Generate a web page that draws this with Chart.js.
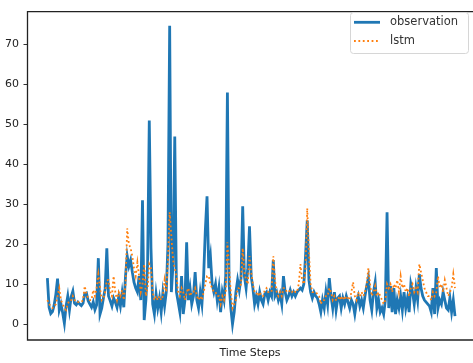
<!DOCTYPE html>
<html>
<head>
<meta charset="utf-8">
<script src="https://cdn.jsdelivr.net/npm/chart.js@4.4.1/dist/chart.umd.min.js"></script>
<style>
  html, body { margin: 0; padding: 0; background: #ffffff; }
  #wrap { width: 473px; height: 363px; }
</style>
</head>
<body>
<div id="wrap"><canvas id="c" width="473" height="363"></canvas></div>
<script>
// ---- data ----
const seriesNames = ['observation', 'lstm'];
const xTitle = 'Time Steps';
const yTicks = [0, 10, 20, 30, 40, 50, 60, 70];

const observation = [
  11.5, 4.2, 2.6, 3.1, 4.8, 7.5, 11.4, 3.5, 5.0, 2.8,
  0.2, 4.5, 7.0, 3.5, 6.8, 8.2, 5.2, 4.8, 5.5, 5.0,
  4.6, 5.2, 7.6, 7.8, 5.8, 5.0, 4.2, 5.5, 3.6, 4.8,
  16.5, 2.5, 4.0, 6.5, 8.8, 19.0, 7.0, 5.8, 4.5, 6.5,
  5.5, 4.2, 6.8, 4.5, 7.8, 4.2, 12.0, 17.0, 14.5, 16.0,
  13.0, 10.5, 9.0, 8.0, 12.0, 6.0, 31.0, 1.0, 6.0, 15.0,
  51.0, 19.0, 5.0, 2.5, 7.5, 4.0, 6.5, 3.0, 7.8, 4.5,
  8.0, 20.0, 74.7, 8.0, 15.0, 47.0, 8.0, 5.5, 3.0, 12.0,
  2.5, 6.0, 20.5, 6.0, 9.0, 5.0, 7.0, 13.0, 6.0, 4.0,
  8.0, 5.0, 12.0, 23.5, 32.0, 14.0, 17.0, 10.0, 8.0, 10.0,
  6.0, 9.0, 3.0, 8.0, 6.0, 12.0, 58.0, 10.0, 4.0, 0.0,
  3.0, 8.0, 11.0, 8.5, 11.5, 29.5, 12.0, 9.0, 14.0, 24.5,
  12.0, 9.0, 5.0, 7.0, 5.0, 8.0, 6.0, 5.0, 7.5, 8.0,
  6.0, 8.0, 7.0, 16.0, 7.0, 8.0, 6.0, 7.5, 5.0, 12.0,
  8.0, 6.0, 7.0, 8.5, 7.0, 8.0, 7.0, 8.0, 8.5, 9.0,
  8.5, 10.0, 17.0, 26.0, 11.0, 8.0, 6.5, 8.0, 7.0, 6.5,
  5.0, 3.0, 6.0, 4.0, 8.0, 5.0, 11.5, 7.0, 4.0, 8.0,
  3.5, 6.5, 7.0, 4.0, 6.5, 5.0, 7.0, 5.5, 4.0, 6.0,
  5.0, 2.5, 5.5, 7.0, 4.5, 6.0, 4.0, 7.0, 9.5, 11.5,
  6.0, 3.5, 8.0, 10.5, 4.0, 6.0, 3.0, 4.0, 2.5, 6.0,
  28.0, 4.0, 9.5, 3.0, 9.0, 2.5, 6.0, 4.0, 7.0, 3.5,
  8.0, 4.0, 6.5, 3.0, 10.0, 8.0, 5.0, 9.0, 6.0, 12.5,
  9.0, 7.0, 6.0, 5.5, 5.0, 4.5, 3.0, 9.0, 2.5, 14.0,
  4.0, 6.0, 5.0, 8.0, 6.0, 4.0, 3.5, 6.5, 3.0, 6.0, 2.0
];

const lstm = [
  6, 5, 4.5, 4, 4.5, 5, 7, 9, 6, 5,
  4, 3.5, 5, 6, 6, 7, 6, 5.5, 5.5, 5.5,
  5.5, 6, 9.5, 7.5, 6.5, 6, 6, 8.5, 7, 9,
  12.5, 9, 6, 6.5, 8, 11, 11, 8, 7, 12,
  8, 6, 8, 7, 8.5, 6, 10, 24, 20, 19,
  17, 14, 12, 15.5, 12, 8, 10, 15, 7, 9,
  15, 14, 8, 6, 7, 6, 7, 6, 7, 11,
  8, 16, 28, 22, 16, 14, 12, 8, 7, 9,
  8, 6, 8, 9, 7, 8, 8, 9, 7, 6,
  7, 6, 8, 10, 12, 12, 10, 9, 8, 8,
  7, 7, 5, 7, 6, 8, 20.5, 14, 8, 4,
  5, 6, 9, 9, 10, 19, 13, 11, 10, 17,
  13, 10, 8, 8, 7, 8, 7, 7, 8.5, 9,
  8, 8, 8, 17, 11, 8, 7, 8, 7, 9,
  9, 8, 8, 8.5, 8, 8.5, 8, 8, 10, 15,
  11, 10, 14, 29, 18, 10, 8, 8, 8, 7.5,
  7, 5, 6, 6, 7, 7, 9, 8, 6, 7,
  6, 6, 7, 6, 7, 6, 7, 6.5, 6, 8,
  10.5, 7, 6, 8, 7, 8, 7, 8, 10, 14,
  10, 7, 8, 9.5, 7, 8, 7, 6, 5, 6,
  10, 9, 10, 8, 10, 9, 11, 8, 12, 9,
  10, 8, 9, 7, 9, 10, 8, 9, 8, 15,
  13, 11, 9, 8, 7, 7, 6, 8, 7, 8,
  12, 9, 10, 8, 11, 9, 7, 8, 9, 12.5, 9
];

const steps = observation.map((_, i) => i);
const toXY = arr => arr.map((v, i) => ({ x: steps[i], y: v }));

const frameAndLegend = {
  id: 'frameAndLegend',
  afterDatasetsDraw(chart) {
    const { ctx, chartArea: a } = chart;
    ctx.save();
    ctx.strokeStyle = '#222';
    ctx.lineWidth = 1.3;
    ctx.beginPath();
    ctx.moveTo(a.right + 5, a.top + 0.5);
    ctx.lineTo(a.left + 0.5, a.top + 0.5);
    ctx.lineTo(a.left + 0.5, a.bottom);
    ctx.lineTo(a.right + 5, a.bottom);
    ctx.stroke();
    ctx.restore();
  },
  afterDraw(chart) {
    const { ctx } = chart;
    const ds = chart.data.datasets;
    ctx.save();
    const bx = 350.5, by = 12.5, bw = 118, bh = 41, r = 3;
    ctx.fillStyle = 'rgba(255,255,255,0.85)';
    ctx.strokeStyle = '#d6d6d6';
    ctx.lineWidth = 1;
    ctx.beginPath();
    ctx.roundRect(bx, by, bw, bh, r);
    ctx.fill();
    ctx.stroke();
    const rows = [22.3, 41];
    ctx.font = '11.5px "DejaVu Sans"';
    ctx.textBaseline = 'middle';
    ds.forEach((d, i) => {
      const y = rows[i];
      ctx.strokeStyle = d.borderColor;
      ctx.lineWidth = d.borderWidth;
      ctx.setLineDash(d.borderDash || []);
      ctx.beginPath();
      ctx.moveTo(354, y);
      ctx.lineTo(380, y);
      ctx.stroke();
      ctx.setLineDash([]);
      ctx.fillStyle = '#333';
      ctx.fillText(d.label, 390, y);
    });
    ctx.restore();
  }
};

new Chart(document.getElementById('c'), {
  type: 'line',
  data: {
    datasets: [
      {
        label: seriesNames[0],
        data: toXY(observation),
        borderColor: '#1f77b4',
        borderWidth: 2.8,
        pointRadius: 0,
        tension: 0,
        order: 2
      },
      {
        label: seriesNames[1],
        data: toXY(lstm),
        borderColor: '#ff7f0e',
        borderWidth: 1.8,
        borderDash: [1.8, 2.6],
        pointRadius: 0,
        tension: 0,
        order: 1
      }
    ]
  },
  plugins: [frameAndLegend],
  options: {
    responsive: false,
    animation: false,
    layout: { padding: { top: 6, right: 0, left: 0, bottom: 0 } },
    plugins: { legend: { display: false }, tooltip: { enabled: false } },
    scales: {
      x: {
        type: 'linear',
        min: -12,
        max: 250.6,
        grid: { display: false },
        border: { display: false },
        ticks: { display: false },
        title: {
          display: true,
          text: xTitle,
          color: '#222',
          font: { family: 'DejaVu Sans', size: 11 },
          padding: { top: 0, bottom: 3.4 }
        },
        afterFit(s) { s.height = 23; }
      },
      y: {
        min: -4,
        max: 78.4,
        afterBuildTicks(s) { s.ticks = yTicks.map(v => ({ value: v })); },
        grid: { display: true, drawOnChartArea: false, drawTicks: true, tickLength: 3.5, color: '#333' },
        border: { display: false },
        ticks: {
          color: '#222',
          font: { family: 'DejaVu Sans', size: 11 },
          padding: 4.5
        },
        afterFit(s) { s.width = 27; }
      }
    }
  }
});
</script>
</body>
</html>
